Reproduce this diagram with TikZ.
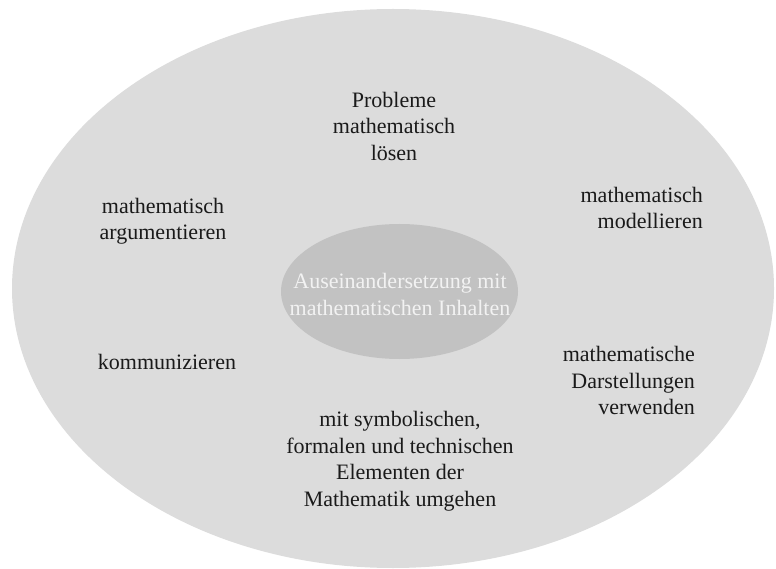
\documentclass[tikz,border=0pt]{standalone}
\usepackage{fontspec}
\setmainfont{Liberation Serif}
\usetikzlibrary{shapes.geometric}
\definecolor{outerfill}{HTML}{DCDCDC}
\definecolor{innerfill}{HTML}{C2C2C2}
\definecolor{innertext}{HTML}{F2F2F2}
\definecolor{labeltext}{HTML}{1A1A1A}
\begin{document}
\begin{tikzpicture}[x=1pt,y=1pt,
  outerell/.style={ellipse, fill=outerfill, draw=none, minimum width=762pt, minimum height=559pt, inner sep=0pt},
  innerell/.style={ellipse, fill=innerfill, draw=none, minimum width=237pt, minimum height=135pt, inner sep=0pt},
  coretext/.style={text=innertext, inner sep=0pt, align=center, font=\fontsize{22}{27}\selectfont},
  lbl/.style={text=labeltext, inner sep=0pt, font=\fontsize{22}{26.5}\selectfont}]
\useasboundingbox (0,0) rectangle (776,-569);
\node[outerell] (outer) at (393,-288.5) {};
\node[innerell] (core) at (399.5,-291.5) {};
\node[coretext] (coretxt) at (400,-294.5) {Auseinandersetzung mit\\mathematischen Inhalten};
\node[lbl, align=center] (probleme) at (394,-126) {Probleme\\mathematisch\\lösen};
\node[lbl, align=center] (argument) at (163,-221) {mathematisch\\argumentieren};
\node[lbl, align=right, anchor=east] (modell) at (703,-208) {mathematisch\\modellieren};
\node[lbl, align=center] (kommun) at (167,-362) {kommunizieren};
\node[lbl, align=right, anchor=east] (darst) at (695,-380.5) {mathematische\\Darstellungen\\verwenden};
\node[lbl, align=center] (symbol) at (400,-461) {mit symbolischen,\\formalen und technischen\\Elementen der\\Mathematik umgehen};
\end{tikzpicture}
\end{document}
